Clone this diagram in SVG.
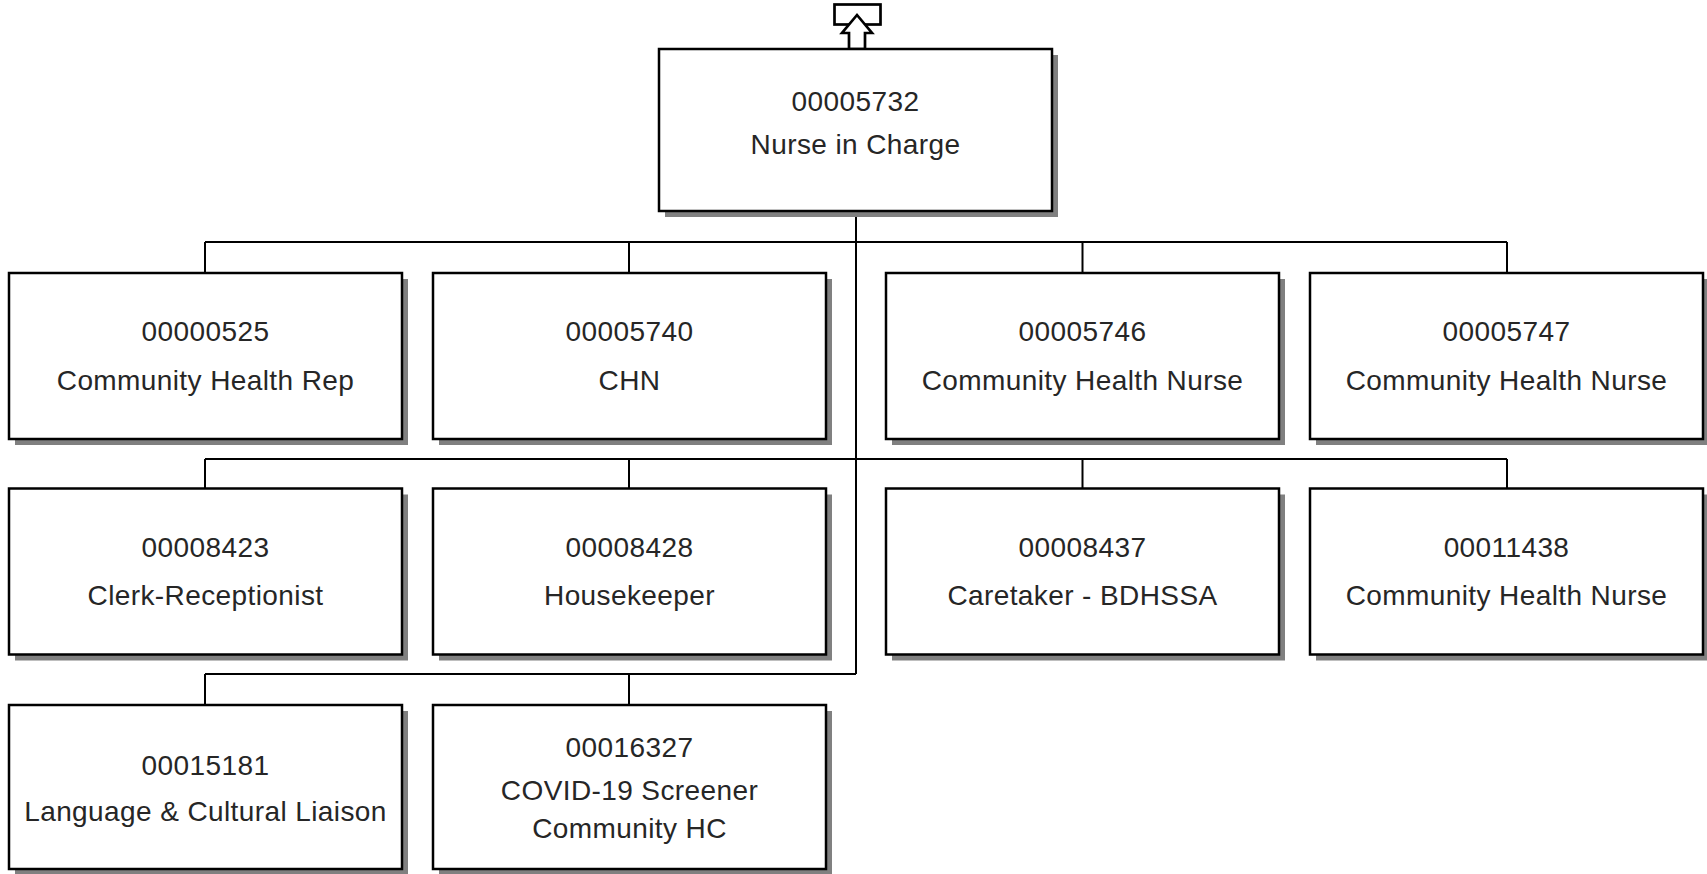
<svg xmlns="http://www.w3.org/2000/svg" width="1707" height="874" viewBox="0 0 1707 874">
<style>
.sh{fill:#808080;stroke:none}
.bx{fill:#fff;stroke:#000;stroke-width:2.5}
.t{font-family:"Liberation Sans",Arial,sans-serif;font-size:28px;letter-spacing:0.4px;fill:#262626;text-anchor:middle}
.c{fill:none;stroke:#000;stroke-width:2}
</style>
<rect width="1707" height="874" fill="#fff"/>
<g id="connectors">
<path class="c" d="M856,211V674M205,242H1507M205,242V273M629,242V273M1082.5,242V273M1507,242V273M205,459H1507M205,459V488.5M629,459V488.5M1082.5,459V488.5M1507,459V488.5M856,674H205M205,674V705M629,674V705"/>
</g>
<g id="up-link">
<rect x="834.5" y="4.5" width="46" height="20" fill="#fff" stroke="#000" stroke-width="2.7"/>
<polygon points="857,15 872,33 865,33 865,49 849,49 849,33 842,33" fill="#fff" stroke="#000" stroke-width="2.7" stroke-linejoin="miter"/>
</g>
<g id="n00005732">
<rect class="sh" x="665" y="55" width="393" height="162"/>
<rect class="bx" x="659" y="49" width="393" height="162"/>
<text class="t" x="855.5" y="111">00005732</text>
<text class="t" x="855.5" y="154">Nurse in Charge</text>
</g>
<g id="n00000525">
<rect class="sh" x="15" y="279" width="393" height="166"/>
<rect class="bx" x="9" y="273" width="393" height="166"/>
<text class="t" x="205.5" y="341">00000525</text>
<text class="t" x="205.5" y="390">Community Health Rep</text>
</g>
<g id="n00005740">
<rect class="sh" x="439" y="279" width="393" height="166"/>
<rect class="bx" x="433" y="273" width="393" height="166"/>
<text class="t" x="629.5" y="341">00005740</text>
<text class="t" x="629.5" y="390">CHN</text>
</g>
<g id="n00005746">
<rect class="sh" x="892" y="279" width="393" height="166"/>
<rect class="bx" x="886" y="273" width="393" height="166"/>
<text class="t" x="1082.5" y="341">00005746</text>
<text class="t" x="1082.5" y="390">Community Health Nurse</text>
</g>
<g id="n00005747">
<rect class="sh" x="1316" y="279" width="393" height="166"/>
<rect class="bx" x="1310" y="273" width="393" height="166"/>
<text class="t" x="1506.5" y="341">00005747</text>
<text class="t" x="1506.5" y="390">Community Health Nurse</text>
</g>
<g id="n00008423">
<rect class="sh" x="15" y="494.5" width="393" height="166"/>
<rect class="bx" x="9" y="488.5" width="393" height="166"/>
<text class="t" x="205.5" y="557">00008423</text>
<text class="t" x="205.5" y="605">Clerk-Receptionist</text>
</g>
<g id="n00008428">
<rect class="sh" x="439" y="494.5" width="393" height="166"/>
<rect class="bx" x="433" y="488.5" width="393" height="166"/>
<text class="t" x="629.5" y="557">00008428</text>
<text class="t" x="629.5" y="605">Housekeeper</text>
</g>
<g id="n00008437">
<rect class="sh" x="892" y="494.5" width="393" height="166"/>
<rect class="bx" x="886" y="488.5" width="393" height="166"/>
<text class="t" x="1082.5" y="557">00008437</text>
<text class="t" x="1082.5" y="605">Caretaker - BDHSSA</text>
</g>
<g id="n00011438">
<rect class="sh" x="1316" y="494.5" width="393" height="166"/>
<rect class="bx" x="1310" y="488.5" width="393" height="166"/>
<text class="t" x="1506.5" y="557">00011438</text>
<text class="t" x="1506.5" y="605">Community Health Nurse</text>
</g>
<g id="n00015181">
<rect class="sh" x="15" y="711" width="393" height="164"/>
<rect class="bx" x="9" y="705" width="393" height="164"/>
<text class="t" x="205.5" y="775">00015181</text>
<text class="t" x="205.5" y="821">Language &amp; Cultural Liaison</text>
</g>
<g id="n00016327">
<rect class="sh" x="439" y="711" width="393" height="164"/>
<rect class="bx" x="433" y="705" width="393" height="164"/>
<text class="t" x="629.5" y="757">00016327</text>
<text class="t" x="629.5" y="800">COVID-19 Screener</text>
<text class="t" x="629.5" y="838">Community HC</text>
</g>
</svg>
